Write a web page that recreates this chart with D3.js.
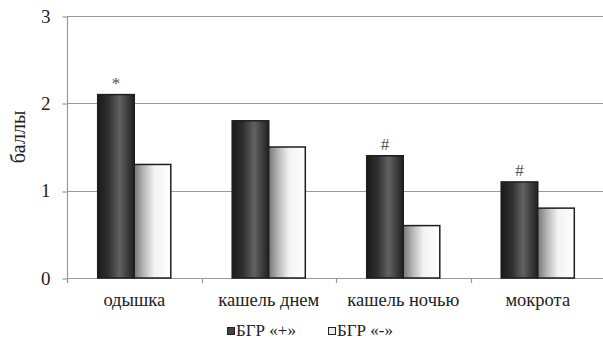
<!DOCTYPE html>
<html>
<head>
<meta charset="utf-8">
<script src="https://cdn.jsdelivr.net/npm/d3@7"></script>
<style>
  html, body { margin: 0; padding: 0; background: #fff; }
  svg { display: block; }
</style>
</head>
<body>
<svg id="chart" width="603" height="342" font-family="Liberation Serif"></svg>
<script>
// Symptom scores by group
const categories = ["одышка", "кашель днем", "кашель ночью", "мокрота"];
const seriesNames = ["БГР «+»", "БГР «-»"];
const positiveValues = [2.1, 1.8, 1.4, 1.1];
const negativeValues = [1.3, 1.5, 0.6, 0.8];
const markers = ["*", "", "#", "#"];
const yTicks = [0, 1, 2, 3];

const FONT = "Liberation Serif";

const svg = d3.select("#chart");
const W = 603, H = 342;
const margin = { left: 67, right: -2, top: 16, bottom: 64 };
const plotW = W - margin.left - margin.right;
const plotH = H - margin.top - margin.bottom;

const defs = svg.append("defs");
const darkGrad = defs.append("linearGradient").attr("id", "gDark").attr("x1", "0").attr("x2", "1");
[[0, "#1a1a1a"], [0.3, "#303030"], [0.6, "#626262"], [0.85, "#383838"], [1, "#202020"]]
  .forEach(([o, c]) => darkGrad.append("stop").attr("offset", o).attr("stop-color", c));
const lightGrad = defs.append("linearGradient").attr("id", "gLight").attr("x1", "0").attr("x2", "1");
[[0, "#777"], [0.25, "#b5b5b5"], [0.55, "#f2f2f2"], [1, "#ffffff"]]
  .forEach(([o, c]) => lightGrad.append("stop").attr("offset", o).attr("stop-color", c));

const g = svg.append("g").attr("transform", `translate(${margin.left},${margin.top})`);

const x0 = d3.scaleBand().domain(categories).range([0, plotW]).paddingInner(0).paddingOuter(0);
const x1 = d3.scaleBand().domain(seriesNames).range([0, x0.bandwidth()]).paddingInner(0).paddingOuter(0.84);
const y = d3.scaleLinear().domain([0, 3]).range([plotH, 0]);

// horizontal gridlines
g.append("g").selectAll("line").data(yTicks).join("line")
  .attr("x1", 0).attr("x2", plotW)
  .attr("y1", d => Math.round(y(d)) + 0.5).attr("y2", d => Math.round(y(d)) + 0.5)
  .attr("stroke", "#9a9a9a").attr("stroke-width", 1.2);

// y axis
const yAxis = g.append("g").attr("transform", "translate(0.5,0)")
  .call(d3.axisLeft(y).tickValues(yTicks).tickFormat(d3.format("d")).tickSize(5).tickPadding(12));
yAxis.attr("font-family", FONT).attr("font-size", 19);
yAxis.select(".domain").attr("stroke", "#9a9a9a").attr("stroke-width", 1.2).attr("d", `M0,${plotH + 5}V0`);
yAxis.selectAll(".tick line").attr("stroke", "#9a9a9a").attr("stroke-width", 1.2)
  .attr("transform", d => `translate(0,${Math.round(y(d)) + 0.5 - y(d)})`);
yAxis.selectAll(".tick text").attr("fill", "#222");

// x axis category labels and separators
const xAxis = g.append("g").attr("transform", `translate(0,${Math.round(plotH) + 0.5})`)
  .call(d3.axisBottom(x0).tickSize(0).tickPadding(14));
xAxis.attr("font-family", FONT).attr("font-size", 18.5);
xAxis.select(".domain").remove();
xAxis.selectAll(".tick text").attr("fill", "#222");
g.append("g").selectAll("line").data(categories).join("line")
  .attr("x1", d => Math.round(x0(d)) + 0.5).attr("x2", d => Math.round(x0(d)) + 0.5)
  .attr("y1", plotH).attr("y2", plotH + 5)
  .attr("stroke", "#9a9a9a").attr("stroke-width", 1.2);

// bars
const rows = categories.map((c, i) => ({ c, vals: [positiveValues[i], negativeValues[i]], mark: markers[i] }));
const groups = g.append("g").selectAll("g").data(rows).join("g")
  .attr("transform", d => `translate(${x0(d.c)},0)`);
groups.selectAll("rect").data(d => d.vals.map((v, k) => ({ v, k }))).join("rect")
  .attr("x", d => x1(seriesNames[d.k]))
  .attr("y", d => y(d.v))
  .attr("width", x1.bandwidth())
  .attr("height", d => plotH - y(d.v))
  .attr("fill", d => d.k === 0 ? "url(#gDark)" : "url(#gLight)")
  .attr("stroke", "#1e1e1e").attr("stroke-width", 1.5);

// significance markers
groups.append("text")
  .attr("x", x1(seriesNames[0]) + x1.bandwidth() / 2)
  .attr("y", d => y(d.vals[0]) - 6)
  .attr("text-anchor", "middle")
  .attr("font-family", FONT).attr("font-size", 17).attr("fill", "#555")
  .text(d => d.mark);

// y axis title
svg.append("text")
  .attr("transform", "translate(25,137) rotate(-90)")
  .attr("text-anchor", "middle")
  .attr("font-family", FONT).attr("font-size", 20).attr("fill", "#222")
  .text("баллы");

// legend
const legend = svg.append("g").attr("transform", "translate(227,336)");
const legendItems = legend.selectAll("g").data(seriesNames).join("g")
  .attr("transform", (d, i) => `translate(${i * 101},0)`);
legendItems.append("rect")
  .attr("x", 0.5).attr("y", -8.5).attr("width", 7).attr("height", 7)
  .attr("fill", (d, i) => i === 0 ? "#444" : "#ececec")
  .attr("stroke", "#222").attr("stroke-width", 1);
legendItems.append("text").attr("x", 9).attr("y", 0)
  .attr("font-family", FONT).attr("font-size", 17).attr("fill", "#222").text(d => d);
</script>
</body>
</html>
